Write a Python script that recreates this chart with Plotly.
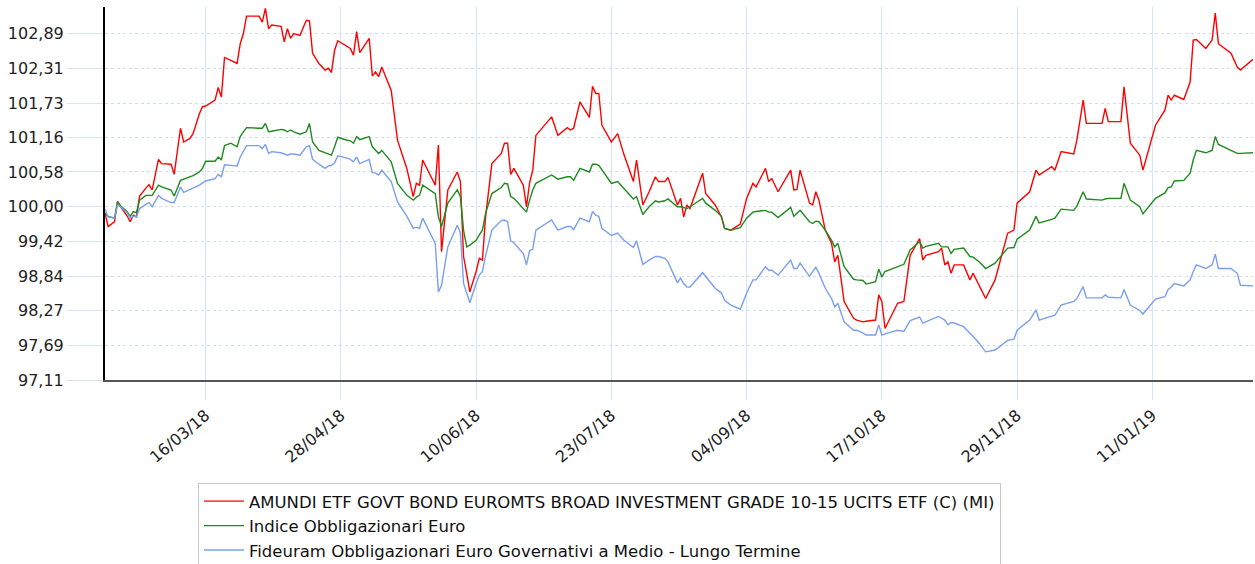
import plotly.graph_objects as go

dates = [
    "2018-02-12", "2018-02-13", "2018-02-15", "2018-02-16", "2018-02-17", "2018-02-19", "2018-02-20", "2018-02-21", "2018-02-22", "2018-02-23",
    "2018-02-25", "2018-02-26", "2018-02-27", "2018-03-01", "2018-03-02", "2018-03-05", "2018-03-06", "2018-03-08", "2018-03-09", "2018-03-11",
    "2018-03-12", "2018-03-14", "2018-03-15", "2018-03-16", "2018-03-19", "2018-03-20", "2018-03-21", "2018-03-22", "2018-03-24", "2018-03-26",
    "2018-03-27", "2018-03-28", "2018-03-29", "2018-04-02", "2018-04-03", "2018-04-04", "2018-04-05", "2018-04-06", "2018-04-09", "2018-04-10",
    "2018-04-11", "2018-04-12", "2018-04-13", "2018-04-15",
    "2018-04-17", "2018-04-18", "2018-04-19", "2018-04-21", "2018-04-23", "2018-04-24", "2018-04-25", "2018-04-26", "2018-04-27", "2018-04-30",
    "2018-05-01", "2018-05-02", "2018-05-03", "2018-05-04", "2018-05-07", "2018-05-08", "2018-05-09", "2018-05-10", "2018-05-11", "2018-05-14",
    "2018-05-16", "2018-05-19", "2018-05-21", "2018-05-22", "2018-05-23", "2018-05-24", "2018-05-28", "2018-05-29", "2018-05-30", "2018-06-01",
    "2018-06-04", "2018-06-05", "2018-06-06", "2018-06-07", "2018-06-08", "2018-06-10", "2018-06-11", "2018-06-12", "2018-06-13", "2018-06-15",
    "2018-06-18", "2018-06-19", "2018-06-20", "2018-06-21", "2018-06-22", "2018-06-25", "2018-06-26", "2018-06-27", "2018-06-28", "2018-06-29",
    "2018-07-04", "2018-07-06", "2018-07-09", "2018-07-10", "2018-07-11", "2018-07-13", "2018-07-16", "2018-07-17", "2018-07-18", "2018-07-19",
    "2018-07-20", "2018-07-23", "2018-07-25", "2018-07-27", "2018-07-30", "2018-07-31", "2018-08-02", "2018-08-04", "2018-08-06", "2018-08-07",
    "2018-08-09", "2018-08-10", "2018-08-13", "2018-08-14", "2018-08-15", "2018-08-16", "2018-08-17", "2018-08-21", "2018-08-22", "2018-08-25",
    "2018-08-27", "2018-08-28", "2018-08-30", "2018-09-02",
    "2018-09-04", "2018-09-06", "2018-09-07", "2018-09-10", "2018-09-11", "2018-09-12", "2018-09-14", "2018-09-18", "2018-09-19", "2018-09-20",
    "2018-09-21", "2018-09-24", "2018-09-25", "2018-09-26", "2018-09-27", "2018-09-29", "2018-10-01", "2018-10-02", "2018-10-03", "2018-10-05",
    "2018-10-08", "2018-10-09", "2018-10-11", "2018-10-12", "2018-10-15", "2018-10-16", "2018-10-17", "2018-10-18", "2018-10-22", "2018-10-24",
    "2018-10-26", "2018-10-29", "2018-10-30", "2018-10-31", "2018-11-04", "2018-11-05", "2018-11-06", "2018-11-07", "2018-11-08", "2018-11-09",
    "2018-11-12", "2018-11-14", "2018-11-15", "2018-11-17", "2018-11-19", "2018-11-22", "2018-11-26", "2018-11-28", "2018-11-29", "2018-12-03",
    "2018-12-05", "2018-12-06", "2018-12-10", "2018-12-11", "2018-12-13", "2018-12-17", "2018-12-18", "2018-12-20", "2018-12-21", "2018-12-26",
    "2018-12-27", "2018-12-28", "2019-01-01", "2019-01-02", "2019-01-04", "2019-01-07", "2019-01-08", "2019-01-12", "2019-01-15", "2019-01-16",
    "2019-01-17", "2019-01-18", "2019-01-21", "2019-01-23", "2019-01-24", "2019-01-25", "2019-01-28", "2019-01-30", "2019-01-31", "2019-02-01",
    "2019-02-05", "2019-02-07", "2019-02-08", "2019-02-12",
]

amundi = [
    99.89, 99.67, 99.75, 100.09, 100.00, 99.85, 99.75, 99.86, 99.83, 100.18,
    100.31, 100.37, 100.28, 100.79, 100.72, 100.71, 100.54, 101.31, 101.08, 101.14,
    101.22, 101.55, 101.67, 101.68, 101.78, 101.99, 101.83, 102.49, 102.44, 102.39,
    102.72, 102.89, 103.18, 103.18, 103.08, 103.31, 102.97, 103.03, 103.01, 102.75,
    102.97, 102.81, 102.89, 102.86,
    103.11, 103.10, 102.56, 102.39, 102.28, 102.31, 102.24, 102.61, 102.77, 102.67,
    102.64, 102.53, 102.92, 102.57, 102.81, 102.18, 102.25, 102.17, 102.33, 101.94,
    101.11, 100.63, 100.17, 100.39, 100.36, 100.78, 100.36, 101.03, 99.25, 100.28,
    100.58, 100.42, 99.17, 98.89, 98.58, 98.92, 99.14, 99.11, 99.83, 100.72,
    100.89, 101.06, 101.06, 100.54, 100.64, 100.36, 100.00, 100.40, 100.61, 101.19,
    101.50, 101.19, 101.32, 101.28, 101.31, 101.75, 101.49, 102.01, 101.89, 101.89,
    101.36, 101.08, 101.22, 100.87, 100.42, 100.78, 100.03, 100.25, 100.50, 100.42,
    100.42, 100.49, 100.03, 100.14, 99.83, 100.03, 99.97, 100.56, 100.22, 100.03,
    99.83, 99.64, 99.61, 99.71,
    100.14, 100.39, 100.33, 100.64, 100.42, 100.47, 100.25, 100.61, 100.28, 100.29,
    100.61, 100.06, 100.03, 100.25, 100.11, 99.61, 99.39, 99.08, 99.19, 98.42,
    98.14, 98.11, 98.08, 98.09, 98.11, 98.53, 98.42, 97.97, 98.39, 98.42,
    99.19, 99.47, 99.11, 99.19, 99.25, 99.31, 99.03, 99.08, 98.89, 99.03,
    99.03, 98.78, 98.89, 98.68, 98.47, 98.78, 99.56, 99.61, 100.06, 100.25,
    100.61, 100.53, 100.67, 100.61, 100.92, 100.88, 101.11, 101.78, 101.39, 101.39,
    101.64, 101.42, 101.42, 102.00, 101.06, 100.86, 100.61, 101.36, 101.61, 101.86,
    101.78, 101.86, 101.79, 102.08, 102.78, 102.79, 102.64, 102.78, 103.23, 102.72,
    102.56, 102.33, 102.28, 102.46,
]

indice = [
    99.89, 99.84, 99.81, 100.08, 100.01, 99.92, 99.84, 99.92, 99.90, 100.11,
    100.19, 100.19, 100.19, 100.36, 100.33, 100.28, 100.18, 100.44, 100.46, 100.49,
    100.52, 100.58, 100.64, 100.76, 100.76, 100.83, 100.78, 101.02, 101.06, 101.00,
    101.17, 101.25, 101.32, 101.31, 101.31, 101.39, 101.25, 101.26, 101.29, 101.28,
    101.25, 101.28, 101.25, 101.21,
    101.25, 101.39, 101.08, 100.94, 100.90, 100.88, 100.86, 101.00, 101.16, 101.11,
    101.10, 101.06, 101.17, 101.12, 101.17, 101.00, 100.94, 100.89, 100.94, 100.75,
    100.39, 100.19, 100.11, 100.16, 100.19, 100.36, 100.22, 99.83, 99.67, 100.06,
    100.28, 100.17, 99.61, 99.33, 99.36, 99.44, 99.53, 99.61, 99.89, 100.22,
    100.32, 100.39, 100.38, 100.17, 100.14, 99.97, 99.91, 100.11, 100.28, 100.39,
    100.53, 100.46, 100.50, 100.50, 100.44, 100.64, 100.58, 100.71, 100.71, 100.69,
    100.61, 100.39, 100.42, 100.31, 100.13, 100.17, 99.87, 100.00, 100.10, 100.08,
    100.10, 100.13, 100.00, 100.00, 99.99, 99.97, 100.00, 100.14, 100.06, 99.94,
    99.84, 99.64, 99.61, 99.65,
    99.81, 99.91, 99.92, 99.94, 99.91, 99.91, 99.82, 99.99, 99.84, 99.89,
    99.94, 99.75, 99.72, 99.76, 99.75, 99.61, 99.44, 99.33, 99.39, 99.00,
    98.79, 98.78, 98.77, 98.71, 98.75, 98.96, 98.83, 98.92, 99.00, 99.04,
    99.28, 99.42, 99.31, 99.34, 99.39, 99.33, 99.33, 99.33, 99.22, 99.29,
    99.31, 99.17, 99.16, 99.08, 98.97, 99.06, 99.31, 99.32, 99.46, 99.61,
    99.84, 99.73, 99.79, 99.81, 99.96, 99.94, 100.01, 100.25, 100.13, 100.11,
    100.13, 100.14, 100.14, 100.39, 100.11, 100.00, 99.88, 100.14, 100.23, 100.32,
    100.33, 100.43, 100.44, 100.56, 100.78, 100.94, 100.90, 100.94, 101.17, 101.04,
    100.94, 100.89, 100.89, 100.90,
]

fideuram = [
    99.96, 99.83, 99.81, 100.03, 100.00, 99.90, 99.81, 99.84, 99.83, 99.97,
    100.04, 100.07, 100.00, 100.19, 100.14, 100.07, 100.07, 100.33, 100.24, 100.28,
    100.31, 100.36, 100.39, 100.43, 100.47, 100.54, 100.50, 100.70, 100.69, 100.68,
    100.83, 100.92, 101.02, 101.02, 100.97, 101.04, 100.89, 100.92, 100.90, 100.88,
    100.86, 100.88, 100.88, 100.86,
    101.00, 101.02, 100.79, 100.71, 100.64, 100.68, 100.69, 100.73, 100.85, 100.81,
    100.79, 100.75, 100.83, 100.72, 100.79, 100.57, 100.56, 100.53, 100.61, 100.42,
    100.08, 99.84, 99.64, 99.66, 99.64, 99.81, 99.39, 98.58, 98.69, 99.33,
    99.69, 99.56, 98.72, 98.56, 98.40, 98.72, 98.86, 98.92, 99.18, 99.61,
    99.77, 99.78, 99.75, 99.43, 99.40, 99.22, 99.03, 99.27, 99.29, 99.61,
    99.78, 99.61, 99.67, 99.67, 99.62, 99.81, 99.75, 99.92, 99.86, 99.84,
    99.64, 99.52, 99.56, 99.44, 99.32, 99.43, 99.04, 99.11, 99.17, 99.17,
    99.14, 99.08, 98.73, 98.81, 98.72, 98.66, 98.66, 98.90, 98.83, 98.64,
    98.56, 98.44, 98.36, 98.29,
    98.56, 98.78, 98.78, 99.00, 98.94, 98.94, 98.86, 99.11, 98.97, 98.97,
    99.06, 98.84, 98.92, 98.99, 98.89, 98.64, 98.47, 98.33, 98.39, 98.08,
    97.94, 97.94, 97.89, 97.86, 97.86, 98.03, 97.86, 97.88, 97.94, 97.92,
    98.10, 98.16, 98.06, 98.08, 98.17, 98.14, 98.11, 98.03, 98.07, 98.06,
    98.00, 97.89, 97.84, 97.72, 97.58, 97.61, 97.77, 97.79, 97.94, 98.11,
    98.28, 98.11, 98.18, 98.19, 98.36, 98.42, 98.47, 98.67, 98.48, 98.48,
    98.53, 98.49, 98.48, 98.62, 98.36, 98.27, 98.21, 98.46, 98.50, 98.62,
    98.66, 98.72, 98.68, 98.78, 98.92, 99.03, 98.97, 99.03, 99.21, 98.97,
    98.97, 98.89, 98.69, 98.68,
]

series_names = [
    "AMUNDI ETF GOVT BOND EUROMTS BROAD INVESTMENT GRADE 10-15 UCITS ETF (C) (MI)",
    "Indice Obbligazionari Euro",
    "Fideuram Obbligazionari Euro Governativi a Medio - Lungo Termine",
]
series_colors = ["#ff0000", "#1e8a1e", "#7a9ff0"]

y_tickvals = [97.11, 97.69, 98.27, 98.84, 99.42, 100.00, 100.58, 101.16, 101.73, 102.31, 102.89]
y_ticktext = ["97,11", "97,69", "98,27", "98,84", "99,42", "100,00", "100,58", "101,16", "101,73", "102,31", "102,89"]
x_tickvals = ["2018-03-16", "2018-04-28", "2018-06-10", "2018-07-23", "2018-09-04", "2018-10-17", "2018-11-29", "2019-01-11"]
x_ticktext = ["16/03/18", "28/04/18", "10/06/18", "23/07/18", "04/09/18", "17/10/18", "29/11/18", "11/01/19"]

FONT = "DejaVu Sans"

fig = go.Figure()
for name, vals, col in zip(series_names, [amundi, indice, fideuram], series_colors):
    fig.add_trace(go.Scatter(x=dates, y=vals, mode="lines", name=name,
                             line=dict(color=col, width=1.4)))

fig.update_layout(
    width=1255, height=564,
    margin=dict(l=105, r=2, t=7, b=184, autoexpand=False),
    paper_bgcolor="white", plot_bgcolor="white",
    font=dict(family=FONT, size=16, color="#222"),
    showlegend=True,
    legend=dict(
        x=0.081, xanchor="left", y=-0.276, yanchor="top",
        bordercolor="#c8c8c8", borderwidth=1, bgcolor="white",
        font=dict(family=FONT, size=16.5, color="#111"),
        tracegroupgap=0, itemwidth=40,
    ),
    xaxis=dict(
        type="date", automargin=False,
        range=["2018-02-12", "2019-02-12"],
        tickmode="array", tickvals=x_tickvals, ticktext=x_ticktext,
        tickangle=-40,
        tickfont=dict(family=FONT, size=16, color="#222"),
        showgrid=True, gridcolor="#d6e6f8", gridwidth=1,
        ticks="outside", ticklen=18, tickcolor="#d6e6f8", tickwidth=1,
        showline=True, linecolor="#555555", linewidth=2,
        zeroline=False,
    ),
    yaxis=dict(
        automargin=False,
        range=[97.11, 103.332],
        tickmode="array", tickvals=y_tickvals, ticktext=y_ticktext,
        tickfont=dict(family=FONT, size=16, color="#222"),
        showgrid=True, gridcolor="#cfdff3", gridwidth=1, griddash="dot",
        ticks="outside", ticklen=36, tickcolor="#d6e6f8", tickwidth=1,
        showline=True, linecolor="#000000", linewidth=2,
        zeroline=False,
    ),
)

fig.write_html(
    "out.html",
    config={"displayModeBar": False},
    post_script="document.body.style.margin='0px';document.body.style.overflow='hidden';",
)
